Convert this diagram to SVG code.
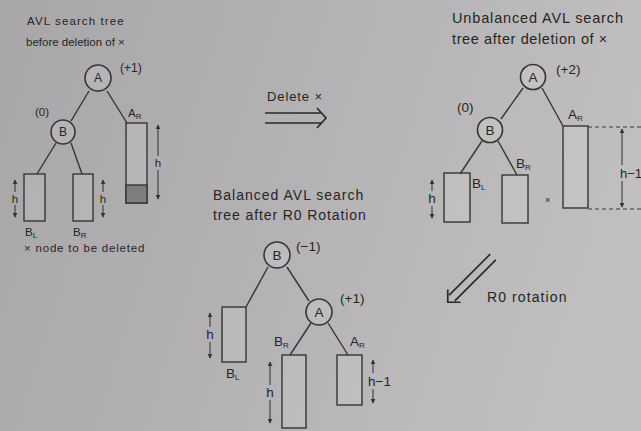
<svg xmlns="http://www.w3.org/2000/svg" width="641" height="431" viewBox="0 0 641 431" font-size="12">
<defs>
<linearGradient id="bg" gradientUnits="userSpaceOnUse" x1="0" y1="0" x2="641" y2="200">
<stop offset="0" stop-color="#a8a6a8"/>
<stop offset="0.5" stop-color="#b4b2b4"/>
<stop offset="1" stop-color="#c1bfc0"/>
</linearGradient>
<marker id="ah" viewBox="0 0 8 8" refX="7" refY="4" markerWidth="5" markerHeight="5" orient="auto-start-reverse">
<path d="M0,0 L8,4 L0,8 z" fill="#333"/>
</marker>
<style>
.t{font-family:"Liberation Sans",Arial,sans-serif;fill:#262626}
.s{font-size:8px}
.e{stroke:#363636;stroke-width:1.4;fill:none}
.n{fill:#ffffff;fill-opacity:0.12;stroke:#363636;stroke-width:1.6}
.r{fill:#ffffff;fill-opacity:0.1;stroke:#363636;stroke-width:1.4}
.m{stroke:#333;stroke-width:1;marker-start:url(#ah);marker-end:url(#ah)}
.d{stroke:#3a3a3a;stroke-width:1;stroke-dasharray:4 3}
.ar{stroke:#2a2a2a;stroke-width:1.7;fill:none}
.g{fill:url(#bg)}
</style>
</defs>
<rect width="641" height="431" fill="url(#bg)"/>

<!-- Left tree: before deletion -->
<g id="title-left">
<text class="t" x="27" y="25" font-size="11.5" letter-spacing="1.1">AVL search tree</text>
<text class="t" x="26" y="46" font-size="11.5">before deletion of ×</text>
</g>
<g id="connectors">
<line class="e" x1="89" y1="91" x2="71" y2="121"/>
<line class="e" x1="107" y1="91" x2="127" y2="123"/>
<line class="e" x1="56" y1="143" x2="37" y2="174"/>
<line class="e" x1="71" y1="143" x2="82" y2="174"/>
<line class="e" x1="523" y1="88" x2="501" y2="119"/>
<line class="e" x1="542" y1="88" x2="563" y2="126"/>
<line class="e" x1="482" y1="141" x2="460" y2="174"/>
<line class="e" x1="498" y1="141" x2="517" y2="175"/>
<line class="e" x1="268" y1="267" x2="246" y2="307"/>
<line class="e" x1="287" y1="267" x2="309" y2="301"/>
<line class="e" x1="311" y1="323" x2="290" y2="355"/>
<line class="e" x1="328" y1="323" x2="348" y2="355"/>
</g>
<g id="nodeA-left">
<circle class="n" cx="98" cy="78" r="13"/>
<text class="t" x="98" y="82" text-anchor="middle">A</text>
<text class="t" x="120" y="72">(+1)</text>
</g>
<g id="nodeB-left">
<circle class="n" cx="63" cy="132" r="12"/>
<text class="t" x="63" y="136" text-anchor="middle">B</text>
<text class="t" x="35" y="116" font-size="11.5">(0)</text>
</g>
<g id="AR-left">
<rect class="r" x="126" y="123" width="21" height="80"/>
<rect x="126" y="185" width="21" height="18" fill="#7f7d7e" stroke="#363636" stroke-width="1.4"/>
<text class="t" x="128" y="117" font-size="11.5">A<tspan class="s" dy="2">R</tspan></text>
<line class="m" x1="158" y1="125" x2="158" y2="199"/>
<rect class="g" x="153" y="156" width="10" height="14"/>
<text class="t" x="158" y="167" text-anchor="middle" font-size="11.5">h</text>
</g>
<g id="BL-left">
<rect class="r" x="24" y="174" width="21" height="47"/>
<line class="m" x1="15" y1="180" x2="15" y2="217"/>
<rect class="g" x="10" y="192" width="10" height="13"/>
<text class="t" x="15" y="203" text-anchor="middle" font-size="11.5">h</text>
<text class="t" x="25" y="236" font-size="11.5">B<tspan class="s" dy="2">L</tspan></text>
</g>
<g id="BR-left">
<rect class="r" x="73" y="174" width="20" height="47"/>
<line class="m" x1="103" y1="180" x2="103" y2="217"/>
<rect class="g" x="98" y="192" width="10" height="13"/>
<text class="t" x="103" y="203" text-anchor="middle" font-size="11.5">h</text>
<text class="t" x="73" y="236" font-size="11.5">B<tspan class="s" dy="2">R</tspan></text>
</g>
<g id="legend">
<text class="t" x="24" y="252" font-size="11.5" letter-spacing="0.8">× node to be deleted</text>
</g>

<!-- Delete arrow -->
<g id="delete-arrow">
<text class="t" x="267" y="101" font-size="13" letter-spacing="0.9">Delete ×</text>
<g transform="translate(265,118)">
<path class="ar" d="M0,-5 H56 M0,5 H56 M52,-10 L61,0 L52,10"/>
</g>
</g>

<!-- Right tree: unbalanced -->
<g id="title-right">
<text class="t" x="452" y="23" font-size="14.5" letter-spacing="0.85">Unbalanced AVL search</text>
<text class="t" x="452" y="44" font-size="14.5" letter-spacing="0.6">tree after deletion of ×</text>
</g>
<g id="nodeA-right">
<circle class="n" cx="533" cy="77" r="12.5"/>
<text class="t" x="533" y="82" text-anchor="middle" font-size="13.5">A</text>
<text class="t" x="556" y="74" font-size="13.5">(+2)</text>
</g>
<g id="nodeB-right">
<circle class="n" cx="490" cy="130" r="12.5"/>
<text class="t" x="490" y="135" text-anchor="middle" font-size="13.5">B</text>
<text class="t" x="457" y="112" font-size="13.5">(0)</text>
</g>
<g id="AR-right">
<rect class="r" x="563" y="126" width="25" height="82"/>
<text class="t" x="568" y="119" font-size="13.5">A<tspan class="s" dy="2">R</tspan></text>
<line class="d" x1="588" y1="127" x2="641" y2="127"/>
<line class="d" x1="588" y1="209" x2="641" y2="209"/>
<line class="m" x1="622" y1="129" x2="622" y2="207"/>
<rect class="g" x="617" y="165" width="24" height="16"/>
<text class="t" x="620" y="178" font-size="13">h−1</text>
</g>
<g id="BL-right">
<rect class="r" x="444" y="173" width="26" height="49"/>
<text class="t" x="472" y="188" font-size="13.5">B<tspan class="s" dy="2">L</tspan></text>
<line class="m" x1="432" y1="180" x2="432" y2="218"/>
<rect class="g" x="427" y="191" width="10" height="15"/>
<text class="t" x="432" y="203" text-anchor="middle" font-size="13.5">h</text>
</g>
<g id="BR-right">
<rect class="r" x="502" y="175" width="26" height="48"/>
<text class="t" x="516" y="168" font-size="13.5">B<tspan class="s" dy="2">R</tspan></text>
<text class="t" x="545" y="203" font-size="9">×</text>
</g>

<!-- Bottom tree: balanced -->
<g id="title-bottom">
<text class="t" x="213" y="200" font-size="14" letter-spacing="1">Balanced AVL search</text>
<text class="t" x="213" y="220" font-size="14" letter-spacing="0.9">tree after R0 Rotation</text>
</g>
<g id="nodeB-bottom">
<circle class="n" cx="277" cy="255" r="13"/>
<text class="t" x="277" y="260" text-anchor="middle" font-size="13.5">B</text>
<text class="t" x="296" y="251" font-size="13.5">(−1)</text>
</g>
<g id="nodeA-bottom">
<circle class="n" cx="319" cy="312" r="13"/>
<text class="t" x="319" y="317" text-anchor="middle" font-size="13.5">A</text>
<text class="t" x="340" y="303" font-size="13.5">(+1)</text>
</g>
<g id="BL-bottom">
<rect class="r" x="222" y="307" width="24" height="55"/>
<line class="m" x1="210" y1="313" x2="210" y2="358"/>
<rect class="g" x="205" y="327" width="10" height="15"/>
<text class="t" x="210" y="339" text-anchor="middle" font-size="13.5">h</text>
<text class="t" x="226" y="378" font-size="13.5">B<tspan class="s" dy="2">L</tspan></text>
</g>
<g id="BR-bottom">
<rect class="r" x="282" y="355" width="24" height="73"/>
<text class="t" x="274" y="346" font-size="13.5">B<tspan class="s" dy="2">R</tspan></text>
<line class="m" x1="270" y1="362" x2="270" y2="423"/>
<rect class="g" x="265" y="385" width="10" height="15"/>
<text class="t" x="270" y="397" text-anchor="middle" font-size="13.5">h</text>
</g>
<g id="AR-bottom">
<rect class="r" x="337" y="355" width="25" height="50"/>
<text class="t" x="350" y="346" font-size="13.5">A<tspan class="s" dy="2">R</tspan></text>
<line class="m" x1="373" y1="360" x2="373" y2="403"/>
<rect class="g" x="368" y="373" width="25" height="16"/>
<text class="t" x="368" y="386" font-size="13.5">h−1</text>
</g>

<!-- R0 rotation arrow -->
<g id="rotation-arrow">
<g transform="translate(493,257) rotate(135)">
<path class="ar" d="M0,-4 H58 M0,4 H58 M55,-9 L64,0 L55,9"/>
</g>
<text class="t" x="487" y="302" font-size="14" letter-spacing="1.1">R0 rotation</text>
</g>
</svg>
